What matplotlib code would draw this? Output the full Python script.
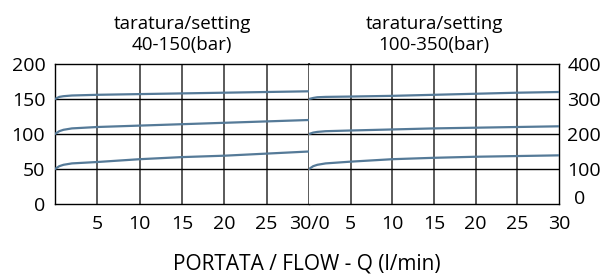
import matplotlib.pyplot as plt
from matplotlib.transforms import ScaledTranslation

# flow (l/min)
flow = [0, 0.5, 1, 2, 5, 10, 15, 20, 25, 30]

# setting 40-150 bar
low_a = [50, 54, 56, 58, 60, 64, 67, 69, 72, 75]
low_b = [100, 104, 106, 108, 110, 112, 114, 116, 118, 120]
low_c = [150, 153, 154, 155, 156, 157, 158, 159, 160, 161]

# setting 100-350 bar
high_a = [100, 108, 112, 116, 121, 128, 132, 135, 137, 139]
high_b = [200, 204, 206, 208, 210, 213, 216, 218, 220, 222]
high_c = [300, 303, 305, 306, 307, 309, 312, 315, 318, 320]

left_xticks = [5, 10, 15, 20, 25, 30]
left_xlabels = ['5', '10', '15', '20', '25', '30/0']
right_xticks = [5, 10, 15, 20, 25, 30]
right_xlabels = ['5', '10', '15', '20', '25', '30']
left_yticks = [0, 50, 100, 150, 200]
right_yticks = [0, 100, 200, 300, 400]

plt.rcParams['font.family'] = ['Open Sans', 'DejaVu Sans']
line_col = '#557a98'

fig = plt.figure(figsize=(6.04, 2.75), dpi=100)
W, H = 604, 275
ax1 = fig.add_axes([55 / W, (H - 204) / H, 254 / W, 140 / H])
ax2 = fig.add_axes([309 / W, (H - 204) / H, 250 / W, 140 / H])

for ax in (ax1, ax2):
    ax.set_xlim(0, 30)
    for x in [5, 10, 15, 20, 25]:
        ax.axvline(x, color='#5a5a5a', lw=1.4, zorder=1)
    for s in ax.spines.values():
        s.set_color('black')
        s.set_linewidth(1.0)
    ax.tick_params(length=0, labelsize=14)
    ax.tick_params(axis='x', pad=8)

ax1.set_ylim(0, 200)
for y in [50, 100, 150]:
    ax1.axhline(y, color='black', lw=1.0, zorder=1)
for ys in (low_a, low_b, low_c):
    ax1.plot(flow, ys, color=line_col, lw=1.6, zorder=3)
ax1.set_xticks(left_xticks)
ax1.set_xticklabels(left_xlabels)
ax1.set_yticks(left_yticks)
ax1.tick_params(axis='y', pad=7)
ax1.spines['right'].set_color('#5a5a5a')
ax1.spines['right'].set_linewidth(1.4)

ax2.set_ylim(0, 400)
for y in [100, 200, 300]:
    ax2.axhline(y, color='black', lw=1.0, zorder=1)
for ys in (high_a, high_b, high_c):
    ax2.plot(flow, ys, color=line_col, lw=1.6, zorder=3)
ax2.set_xticks(right_xticks)
ax2.set_xticklabels(right_xlabels)
ax2.set_yticks(right_yticks)
ax2.yaxis.tick_right()
ax2.tick_params(axis='y', pad=6)
ax2.spines['left'].set_visible(False)

# the zero on the right scale sits a little higher and further in
zero_lbl = ax2.get_yticklabels()[0]
zero_lbl.set_transform(zero_lbl.get_transform() + ScaledTranslation(0.07, 0.07, fig.dpi_scale_trans))

ax1.set_title('taratura/setting\n40-150(bar)', fontsize=13.5, linespacing=1.25, pad=10)
ax2.set_title('taratura/setting\n100-350(bar)', fontsize=13.5, linespacing=1.25, pad=10)

fig.text(307 / W, 1 - 264 / H, 'PORTATA / FLOW - Q (l/min)', ha='center', va='center', fontsize=15)

fig.savefig('out.png', dpi=100)
